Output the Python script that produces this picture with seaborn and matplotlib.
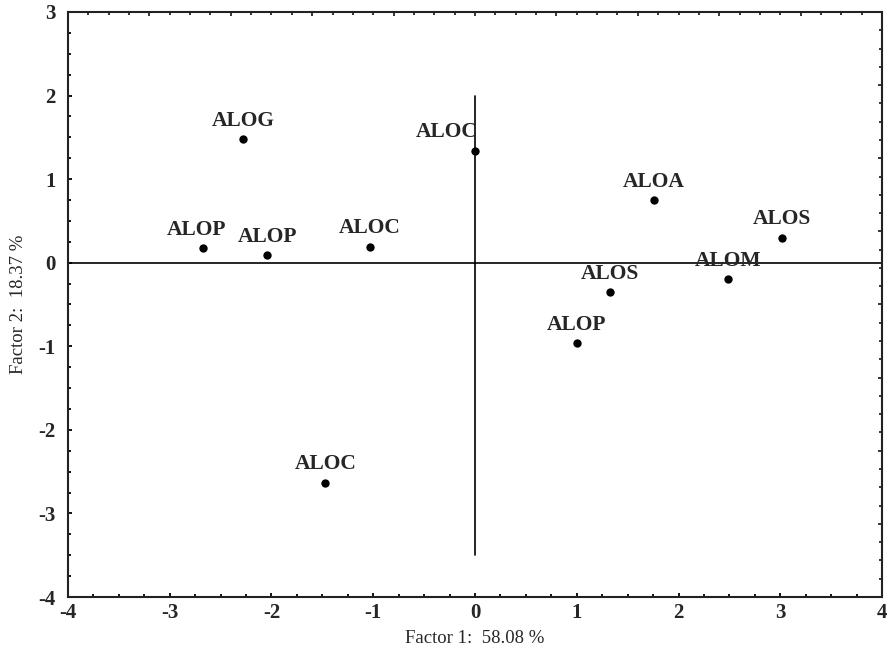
import matplotlib
matplotlib.use("Agg")
import matplotlib.pyplot as plt
from matplotlib.ticker import MultipleLocator, FixedLocator, NullFormatter
import seaborn as sns
import pandas as pd

# Factor scores of each sample on the first two principal factors
labels = ["ALOG", "ALOC", "ALOP", "ALOP", "ALOC", "ALOA", "ALOS",
          "ALOM", "ALOS", "ALOP", "ALOC"]
factor1 = [-2.28, 0.00, -2.67, -2.04, -1.03, 1.76, 3.02,
           2.49, 1.33, 1.00, -1.47]
factor2 = [1.48, 1.34, 0.17, 0.09, 0.19, 0.75, 0.30,
           -0.20, -0.35, -0.96, -2.63]

x_label = "Factor 1:  58.08 %"
y_label = "Factor 2:  18.37 %"

df = pd.DataFrame({"label": labels, "f1": factor1, "f2": factor2})

sns.set_style("ticks")
plt.rcParams["font.family"] = ["Liberation Serif", "DejaVu Serif"]
plt.rcParams["axes.unicode_minus"] = False

fig = plt.figure(figsize=(8.93, 6.58), dpi=100)
ax = fig.add_axes([0.0761, 0.0927, 0.9116, 0.8891])

# reference axes through the origin
ax.axhline(0, color="black", lw=1.2, zorder=1)
ax.plot([0, 0], [-3.5, 2.0], color="black", lw=1.2, zorder=1)

sns.scatterplot(data=df, x="f1", y="f2", ax=ax, color="black", s=36,
                edgecolor="black", linewidth=0, zorder=3, legend=False)

# horizontal nudges (points) for labels that sit off-centre
label_dx = {1: -20, 2: -5}
for i, row in df.iterrows():
    ax.annotate(row["label"], (row["f1"], row["f2"]),
                xytext=(label_dx.get(i, 0), 6), textcoords="offset points",
                ha="center", va="bottom", fontsize=15.5, fontweight="bold")

ax.set_xlim(-4, 4)
ax.set_ylim(-4, 3)
ax.xaxis.set_major_locator(MultipleLocator(1))
ax.yaxis.set_major_locator(MultipleLocator(1))
ax.xaxis.set_minor_locator(MultipleLocator(0.25))
ax.yaxis.set_minor_locator(MultipleLocator(0.25))
ax.tick_params(which="major", direction="in", length=3, width=1.3,
               color="black", labelsize=15)
ax.tick_params(axis="x", which="major", pad=4)
ax.tick_params(axis="y", which="major", pad=9)
ax.tick_params(which="minor", direction="in", length=2, width=1.3,
               color="black")
for t in ax.get_xticklabels() + ax.get_yticklabels():
    t.set_fontweight("bold")

# unlabelled scale ticks along the top and right frame
top = ax.secondary_xaxis("top")
top.xaxis.set_major_locator(MultipleLocator(0.8))
top.xaxis.set_minor_locator(MultipleLocator(0.2))
top.xaxis.set_major_formatter(NullFormatter())
top.tick_params(which="major", direction="in", length=3, width=1.3)
top.tick_params(which="minor", direction="in", length=2, width=1.3)
top.spines["top"].set_visible(False)

right = ax.secondary_yaxis("right")
step = 7 / 32
right.yaxis.set_major_locator(FixedLocator([3 - k * step for k in range(0, 33, 4)]))
right.yaxis.set_minor_locator(FixedLocator([3 - k * step for k in range(33)]))
right.yaxis.set_major_formatter(NullFormatter())
right.tick_params(which="major", direction="in", length=3, width=1.3)
right.tick_params(which="minor", direction="in", length=2, width=1.3)
right.spines["right"].set_visible(False)

for sp in ax.spines.values():
    sp.set_visible(True)
    sp.set_linewidth(1.5)
    sp.set_color("#222222")

ax.set_xlabel(x_label, fontsize=13.5, labelpad=5)
ax.set_ylabel(y_label, fontsize=13.5, labelpad=8)

fig.savefig("out.png", dpi=100)
